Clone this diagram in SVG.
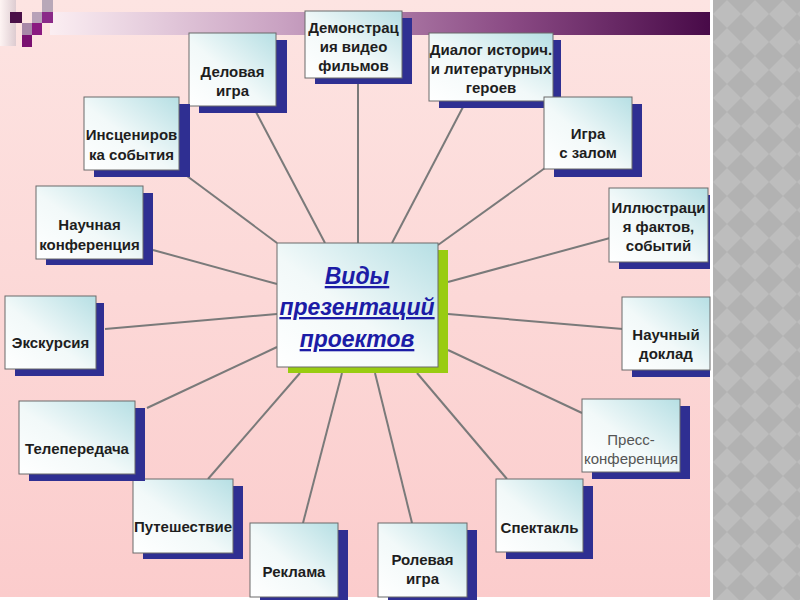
<svg xmlns="http://www.w3.org/2000/svg" width="800" height="600" viewBox="0 0 800 600">
<defs>
  <linearGradient id="bg" x1="0" y1="0" x2="0" y2="1">
    <stop offset="0" stop-color="#fde4e2"/>
    <stop offset="1" stop-color="#fbcccc"/>
  </linearGradient>
  <linearGradient id="bar" x1="0" y1="0" x2="1" y2="0">
    <stop offset="0" stop-color="#fbeef2"/>
    <stop offset="0.35" stop-color="#c9a2c2"/>
    <stop offset="0.7" stop-color="#8a4a84"/>
    <stop offset="1" stop-color="#480a48"/>
  </linearGradient>
  <linearGradient id="edge" x1="0" y1="0" x2="1" y2="0">
    <stop offset="0" stop-color="#ffffff"/>
    <stop offset="1" stop-color="#c8bcc6"/>
  </linearGradient>
  <linearGradient id="box" x1="0" y1="1" x2="1" y2="0">
    <stop offset="0" stop-color="#ffffff"/>
    <stop offset="0.45" stop-color="#f2f9f9"/>
    <stop offset="1" stop-color="#b6dfe4"/>
  </linearGradient>
  <pattern id="diam" x="713" y="0" width="28" height="28" patternUnits="userSpaceOnUse">
    <rect width="28" height="28" fill="#b2b2b2"/>
    <polygon points="14,0 28,14 14,28 0,14" fill="#bdbdbd"/>
  </pattern>
  <style>
    .sh { fill: #2f2f92; }
    .bx { fill: url(#box); stroke: #6a6a6a; stroke-width: 1; }
    .t { font-family: "Liberation Sans", Arial, sans-serif; font-size: 15px; font-weight: bold; fill: #1e1e1e; text-anchor: middle; }
    .tg { font-family: "Liberation Sans", Arial, sans-serif; font-size: 15px; fill: #555555; text-anchor: middle; }
    .ct { font-family: "Liberation Sans", Arial, sans-serif; font-size: 23px; font-weight: bold; font-style: italic; fill: #1c1ca6; text-anchor: middle; text-decoration: underline; }
    .cn line { stroke: #7a7a7a; stroke-width: 2; }
  </style>
</defs>

<!-- background -->
<rect x="0" y="0" width="800" height="600" fill="#ffffff"/>
<rect x="0" y="0" width="710" height="597" fill="url(#bg)"/>
<rect x="713" y="0" width="87" height="600" fill="url(#diam)"/>

<!-- header decoration -->
<rect x="0" y="0" width="16" height="46" fill="url(#edge)" opacity="0.6"/>
<rect x="50" y="12" width="660" height="23" fill="url(#bar)"/>
<rect x="10" y="12" width="12" height="11" fill="#4a1048"/>
<rect x="32" y="12" width="10" height="11" fill="#b8a2b8"/>
<rect x="42" y="12" width="11" height="11" fill="#8a2a88"/>
<rect x="42" y="0" width="11" height="12" fill="#b8a8b8"/>
<rect x="22" y="23" width="10" height="12" fill="#a888a8"/>
<rect x="32" y="23" width="10" height="12" fill="#8a1a80"/>
<rect x="22" y="35" width="10" height="12" fill="#7a1070"/>

<!-- connectors -->
<g id="connectors" class="cn">
  <line x1="256" y1="112" x2="325" y2="243"/>
  <line x1="187" y1="176" x2="277" y2="243"/>
  <line x1="358" y1="84" x2="358" y2="243"/>
  <line x1="463" y1="107" x2="392" y2="243"/>
  <line x1="545" y1="168" x2="438" y2="245"/>
  <line x1="610" y1="238" x2="448" y2="282"/>
  <line x1="623" y1="329" x2="448" y2="314"/>
  <line x1="582" y1="413" x2="448" y2="350"/>
  <line x1="507" y1="479" x2="417" y2="373"/>
  <line x1="412" y1="523" x2="375" y2="373"/>
  <line x1="303" y1="523" x2="342" y2="373"/>
  <line x1="208" y1="479" x2="300" y2="373"/>
  <line x1="147" y1="408" x2="277" y2="347"/>
  <line x1="105" y1="329" x2="277" y2="314"/>
  <line x1="153" y1="250" x2="277" y2="284"/>
</g>

<!-- center -->
<g id="center">
  <rect x="288" y="250" width="160" height="123" fill="#99cc11"/>
  <rect x="277" y="243" width="161" height="124" class="bx"/>
  <text class="ct" x="357" y="284">Виды</text>
  <text class="ct" x="357" y="315">презентаций</text>
  <text class="ct" x="357" y="347">проектов</text>
</g>

<g id="n-delovaya">
  <rect x="199" y="40" width="88" height="73" class="sh"/>
  <rect x="189" y="33" width="87" height="73" class="bx"/>
  <text class="t" x="232.5" y="77">Деловая</text>
  <text class="t" x="232.5" y="96">игра</text>
</g>
<g id="n-inscen">
  <rect x="94" y="104" width="96" height="73" class="sh"/>
  <rect x="84" y="97" width="95" height="73" class="bx"/>
  <text class="t" x="131.5" y="140">Инсцениров</text>
  <text class="t" x="131.5" y="160">ка события</text>
</g>
<g id="n-demo">
  <rect x="315" y="18" width="97" height="66" class="sh"/>
  <rect x="305" y="11" width="97" height="67" class="bx"/>
  <text class="t" x="353.5" y="33">Демонстрац</text>
  <text class="t" x="353.5" y="52">ия видео</text>
  <text class="t" x="353.5" y="71">фильмов</text>
</g>
<g id="n-dialog">
  <rect x="439" y="40" width="122" height="68" class="sh"/>
  <rect x="429" y="33" width="124" height="68" class="bx"/>
  <text class="t" x="491" y="55">Диалог историч.</text>
  <text class="t" x="491" y="74">и литературных</text>
  <text class="t" x="491" y="93">героев</text>
</g>
<g id="n-igra-zal">
  <rect x="554" y="104" width="88" height="73" class="sh"/>
  <rect x="544" y="97" width="88" height="72" class="bx"/>
  <text class="t" x="588" y="139">Игра</text>
  <text class="t" x="588" y="158">с залом</text>
</g>
<g id="n-illustr">
  <rect x="619" y="195" width="91" height="74" class="sh"/>
  <rect x="609" y="188" width="99" height="74" class="bx"/>
  <text class="t" x="658.5" y="213">Иллюстраци</text>
  <text class="t" x="658.5" y="232">я фактов,</text>
  <text class="t" x="658.5" y="251">событий</text>
</g>
<g id="n-nauch-doklad">
  <rect x="632" y="304" width="78" height="73" class="sh"/>
  <rect x="622" y="297" width="88" height="73" class="bx"/>
  <text class="t" x="666" y="340">Научный</text>
  <text class="t" x="666" y="359">доклад</text>
</g>
<g id="n-press">
  <rect x="592" y="406" width="98" height="73" class="sh"/>
  <rect x="582" y="399" width="98" height="73" class="bx"/>
  <text class="tg" x="631" y="445">Пресс-</text>
  <text class="tg" x="631" y="464">конференция</text>
</g>
<g id="n-spektakl">
  <rect x="506" y="486" width="87" height="73" class="sh"/>
  <rect x="496" y="479" width="87" height="73" class="bx"/>
  <text class="t" x="539.5" y="533">Спектакль</text>
</g>
<g id="n-rolevaya">
  <rect x="388" y="530" width="89" height="70" class="sh"/>
  <rect x="378" y="523" width="89" height="74" class="bx"/>
  <text class="t" x="422.5" y="565">Ролевая</text>
  <text class="t" x="422.5" y="584">игра</text>
</g>
<g id="n-reklama">
  <rect x="260" y="530" width="88" height="70" class="sh"/>
  <rect x="250" y="523" width="88" height="74" class="bx"/>
  <text class="t" x="294" y="577">Реклама</text>
</g>
<g id="n-puteshestvie">
  <rect x="143" y="486" width="100" height="73" class="sh"/>
  <rect x="133" y="479" width="100" height="74" class="bx"/>
  <text class="t" x="183" y="532">Путешествие</text>
</g>
<g id="n-teleperedacha">
  <rect x="29" y="408" width="116" height="73" class="sh"/>
  <rect x="19" y="401" width="116" height="73" class="bx"/>
  <text class="t" x="77" y="454">Телепередача</text>
</g>
<g id="n-ekskursiya">
  <rect x="15" y="303" width="89" height="73" class="sh"/>
  <rect x="5" y="296" width="91" height="73" class="bx"/>
  <text class="t" x="50.5" y="348">Экскурсия</text>
</g>
<g id="n-nauch-konf">
  <rect x="46" y="193" width="107" height="72" class="sh"/>
  <rect x="36" y="186" width="107" height="73" class="bx"/>
  <text class="t" x="89.5" y="230">Научная</text>
  <text class="t" x="89.5" y="250">конференция</text>
</g>
</svg>
